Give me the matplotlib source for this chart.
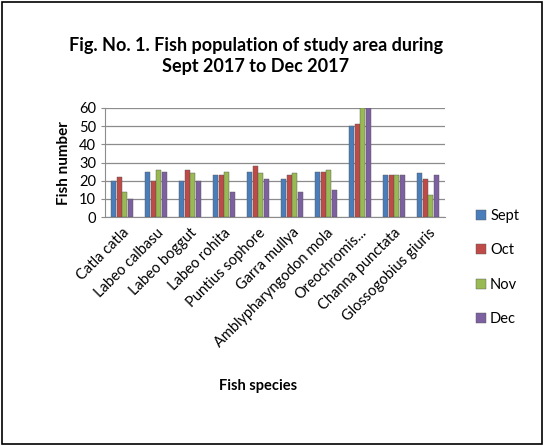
import numpy as np
import matplotlib
matplotlib.use("Agg")
import matplotlib.pyplot as plt
from matplotlib.patches import Rectangle

species = ["Catla catla", "Labeo calbasu", "Labeo boggut", "Labeo rohita",
           "Puntius sophore", "Garra mullya", "Amblypharyngodon mola",
           "Oreochromis...", "Channa punctata", "Glossogobius giuris"]
months = ["Sept", "Oct", "Nov", "Dec"]
sept = [20, 25, 20, 23, 25, 21, 25, 50, 23, 24]
oct_ = [22, 20, 26, 23, 28, 23, 25, 51, 23, 21]
nov = [14, 26, 24, 25, 24, 24, 26, 60, 23, 12]
dec = [10, 25, 20, 14, 21, 14, 15, 60, 23, 23]
colors = ["#4a7ebb", "#be4b48", "#98b954", "#7d60a0"]

plt.rcParams["font.family"] = ["Lato", "DejaVu Sans"]

fig = plt.figure(figsize=(5.44, 4.46), dpi=100)
fig.patches.append(Rectangle((0.004, 0.004), 0.992, 0.992, transform=fig.transFigure,
                             fill=False, edgecolor="black", linewidth=1.2))
ax = fig.add_axes([0.193, 0.513, 0.625, 0.245])

x = np.arange(len(species))
w = 0.16
for i, (vals, c, m) in enumerate(zip([sept, oct_, nov, dec], colors, months)):
    ax.bar(x + (i - 1.5) * w, vals, w * 0.95, color=c, edgecolor="#555555",
           linewidth=0.3, label=m, zorder=3)

ax.set_ylim(0, 60)
ax.set_yticks(range(0, 61, 10))
ax.set_xlim(-0.5, len(species) - 0.5)
ax.yaxis.grid(True, color="#8c8c8c", linewidth=0.9, zorder=0)
ax.set_xticks(x)
ax.set_xticklabels(species, rotation=45, ha="right", rotation_mode="anchor", fontsize=10.5)
ax.tick_params(axis="y", labelsize=10.5, length=3, color="#8c8c8c")
ax.tick_params(axis="x", length=0, pad=6)
for s in ["top", "right"]:
    ax.spines[s].set_visible(False)
ax.spines["left"].set_color("#8c8c8c")
ax.spines["bottom"].set_color("#8c8c8c")

ax.set_ylabel("Fish number", fontsize=11, fontweight="bold", labelpad=6)
fig.text(0.475, 0.135, "Fish species", ha="center", va="center",
         fontsize=10.5, fontweight="bold")
fig.text(0.47, 0.875, "Fig. No. 1. Fish population of study area during\nSept 2017 to Dec 2017",
         ha="center", va="center", fontsize=13, fontweight="bold", linespacing=1.3)

fig.legend(loc="center left", bbox_to_anchor=(0.85, 0.4), frameon=False,
           fontsize=10.5, labelspacing=1.4, handlelength=0.7, handleheight=0.7,
           handletextpad=0.3)

fig.savefig("out.png", dpi=100)
